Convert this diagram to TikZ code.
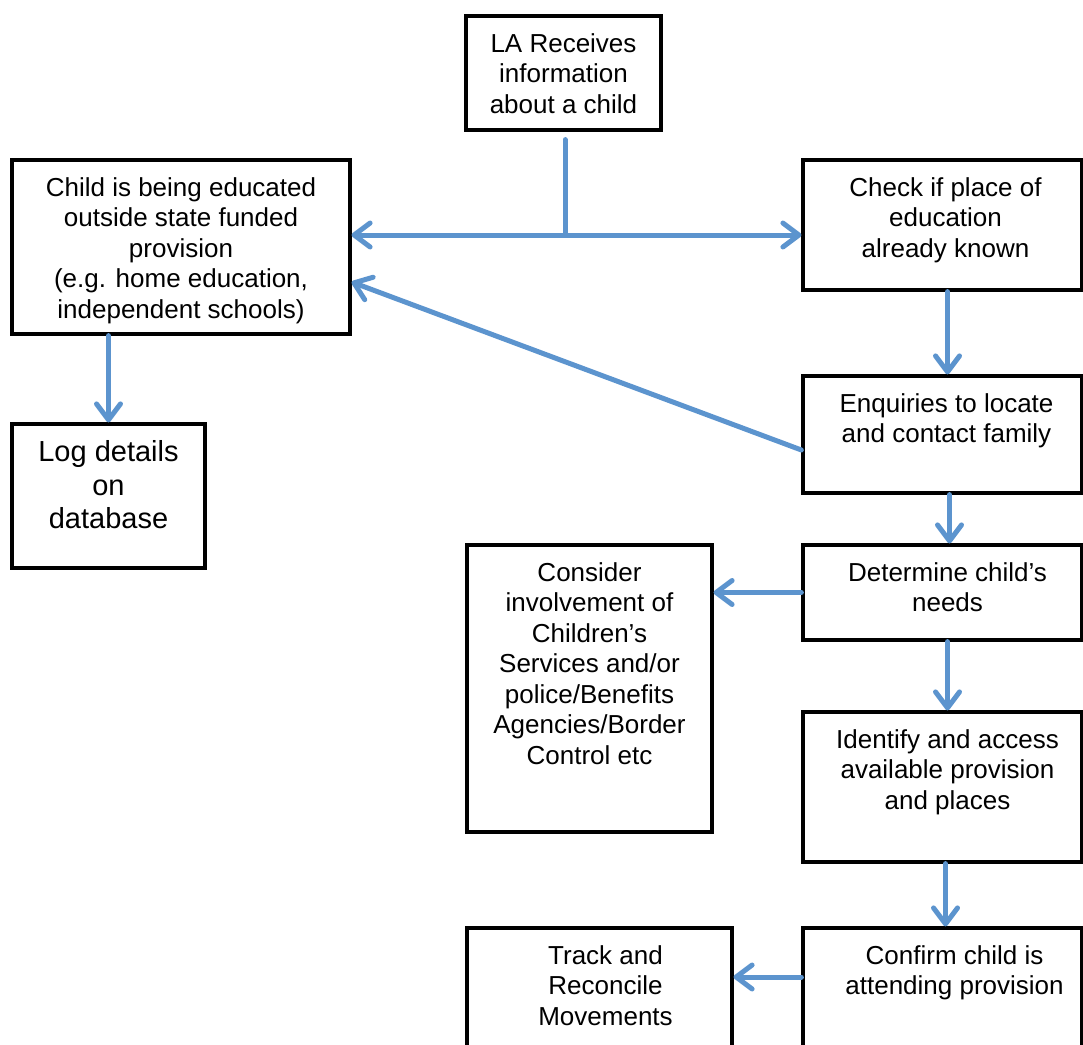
\documentclass[tikz,border=0pt]{standalone}
\usepackage{fontspec}
\setmainfont{Liberation Sans}
\usetikzlibrary{arrows.meta, positioning}
\definecolor{flowblue}{RGB}{92,148,206}

\tikzset{
  box/.style={rectangle, draw=black, line width=3.2pt},
  boxtext/.style={anchor=north, align=center, inner sep=0pt, yshift=-19pt, font=\fontsize{26}{30.5}\selectfont},
  link/.style={draw=flowblue, line width=5pt, line cap=round},
  flow/.style={link, -{Straight Barb[length=16pt, width=24pt, round]}}
}

\begin{document}
\begin{tikzpicture}[x=1pt, y=-1pt]
  \useasboundingbox (0,0) rectangle (1083,1044);

  % boxes
  \node[box, minimum width=195pt, minimum height=114pt] (la) at (563.5,73) {};
  \node[box, minimum width=338pt, minimum height=174pt] (child) at (181,247) {};
  \node[box, minimum width=279pt, minimum height=130pt] (check) at (942.5,225) {};
  \node[box, minimum width=279pt, minimum height=117pt] (enq) at (942.5,434.5) {};
  \node[box, minimum width=193pt, minimum height=144pt] (log) at (108.5,496) {};
  \node[box, minimum width=279pt, minimum height=95pt] (det) at (942.5,592.5) {};
  \node[box, minimum width=245pt, minimum height=287pt] (cons) at (589.5,688.5) {};
  \node[box, minimum width=279pt, minimum height=150pt] (iden) at (942.5,787) {};
  \node[box, minimum width=279pt, minimum height=132pt] (conf) at (942.5,994) {};
  \node[box, minimum width=265pt, minimum height=132pt] (track) at (599.5,994) {};

  % texts
  \node[boxtext] (la-t) at (la.north) {LA Receives\\information\\about a child};
  \node[boxtext] (child-t) at (child.north) {Child is being educated\\outside state funded\\provision\\(e.g. home education,\\independent schools)};
  \node[boxtext, xshift=3pt] (check-t) at (check.north) {Check if place of\\education\\already known};
  \node[boxtext, xshift=4pt] (enq-t) at (enq.north) {Enquiries to locate\\and contact family};
  \node[boxtext, font=\fontsize{29}{33.5}\selectfont, yshift=1pt] (log-t) at (log.north) {Log details\\on\\database};
  \node[boxtext, xshift=5pt] (det-t) at (det.north) {Determine child’s\\needs};
  \node[boxtext] (cons-t) at (cons.north) {Consider\\involvement of\\Children’s\\Services and/or\\police/Benefits\\Agencies/Border\\Control etc};
  \node[boxtext, xshift=5pt] (iden-t) at (iden.north) {Identify and access\\available provision\\and places};
  \node[boxtext, xshift=12pt] (conf-t) at (conf.north) {Confirm child is\\attending provision};
  \node[boxtext, xshift=6pt] (track-t) at (track.north) {Track and\\Reconcile\\Movements};

  % connectors
  \coordinate (split) at (565,235);
  \draw[link] ([xshift=1.5pt, yshift=-8pt]la.south) -- (split);
  \draw[flow] (split) -- (split -| child.east);
  \draw[flow] (split) -- (split -| check.west);
  \draw[flow] ([yshift=-15.5pt]enq.west) -- ([yshift=-35pt]child.east);
  \draw[flow] (child.south -| log.north) -- (log.north);
  \draw[flow] ([xshift=5pt]check.south) -- ([xshift=5pt]enq.north);
  \draw[flow] ([xshift=7pt]enq.south) -- ([xshift=7pt]det.north);
  \draw[flow] (det.west) -- (det.west -| cons.east);
  \draw[flow] ([xshift=5pt]det.south) -- ([xshift=5pt]iden.north);
  \draw[flow] ([xshift=3pt]iden.south) -- ([xshift=3pt]conf.north);
  \coordinate (conf-l) at ([yshift=17pt]conf.west);
  \draw[flow] (conf-l) -- (conf-l -| track.east);
\end{tikzpicture}
\end{document}
